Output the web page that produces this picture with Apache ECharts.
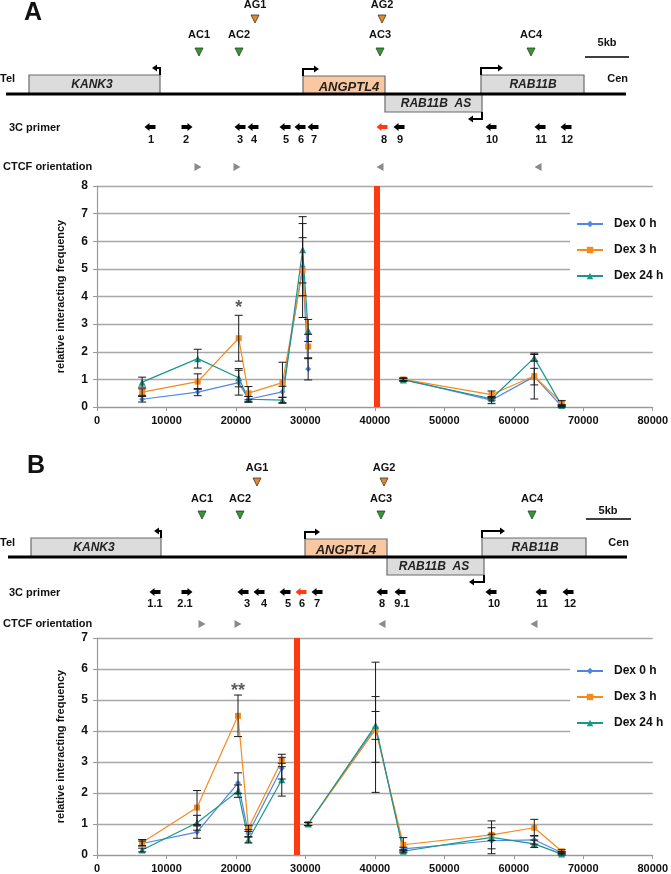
<!DOCTYPE html>
<html><head><meta charset="utf-8">
<script src="https://cdn.jsdelivr.net/npm/echarts@6/dist/echarts.min.js"></script>
<style>html,body{margin:0;padding:0;background:#fff}#c{width:671px;height:874px}</style>
</head><body><div id="c"></div>
<script>
// ---------------- DATA ----------------
const seriesNames = ['Dex 0 h', 'Dex 3 h', 'Dex 24 h'];
const xTicks = [0, 10000, 20000, 30000, 40000, 50000, 60000, 70000, 80000];

// Panel A (viewpoint: primer 8). '-' = break at viewpoint
const posA      = [6500, 14500, 20400, 21800, 26700, 29600, 30400, 40300, 44100, 56800, 62950, 66900];
const dex0A     = [0.28, 0.54, 0.88, 0.28, 0.55, 5.08, 1.38, '-', 1.00, 0.25, 1.10, 0.02];
const dex3A     = [0.54, 0.92, 2.49, 0.50, 0.88, 4.94, 2.19, '-', 1.00, 0.45, 1.12, 0.15];
const dex24A    = [0.90, 1.75, 1.06, 0.28, 0.25, 5.69, 2.77, '-', 0.98, 0.30, 1.78, 0.05];
const err0A     = [0.10, 0.13, 0.45, 0.10, 0.20, 1.05, 0.40, 0, 0.05, 0.13, 0.30, 0.03];
const err3A     = [0.12, 0.28, 0.83, 0.24, 0.74, 1.70, 0.44, 0, 0.05, 0.13, 0.83, 0.08];
const err24A    = [0.18, 0.34, 0.33, 0.10, 0.10, 1.20, 0.40, 0, 0.05, 0.05, 0.12, 0.03];
const viewA     = 40300;
const yMaxA     = 8;
const sigA      = [[20400, 3.6, '*']];

// Panel B (viewpoint: primer 6)
const posB      = [6500, 14400, 20300, 21800, 26600, 28700, 30400, 40100, 44100, 56800, 62950, 66900];
const dex0B     = [0.37, 0.74, 2.32, 0.70, 2.80, '-', 1.00, 4.12, 0.20, 0.46, 0.49, 0.07];
const dex3B     = [0.40, 1.53, 4.49, 0.86, 3.05, '-', 1.00, 4.05, 0.33, 0.65, 0.88, 0.12];
const dex24B    = [0.16, 1.04, 2.06, 0.49, 2.43, '-', 1.00, 4.18, 0.12, 0.57, 0.36, 0.03];
const err0B     = [0.08, 0.20, 0.33, 0.12, 0.35, 0, 0.05, 2.10, 0.05, 0.42, 0.14, 0.04];
const err3B     = [0.10, 0.55, 0.67, 0.10, 0.20, 0, 0.05, 1.06, 0.23, 0.45, 0.27, 0.05];
const err24B    = [0.06, 0.24, 0.20, 0.10, 0.53, 0, 0.05, 0.45, 0.05, 0.10, 0.12, 0.03];
const viewB     = 28700;
const yMaxB     = 7;
const sigB      = [[20300, 5.3, '**']];

// Diagram texts
const geneNames      = ['KANK3', 'ANGPTL4', 'RAB11B  AS', 'RAB11B'];
const agLabels       = ['AG1', 'AG2'];
const acLabels       = ['AC1', 'AC2', 'AC3', 'AC4'];
const primerLabelsA  = ['1','2','3','4','5','6','7','8','9','10','11','12'];
const primerLabelsB  = ['1.1','2.1','3','4','5','6','7','8','9.1','10','11','12'];
const primerDirA     = ['L','R','L','L','L','L','L','L','L','L','L','L'];
const primerDirB     = ['L','R','L','L','L','L','L','L','L','L','L','L'];
const viewPrimerA    = 7;
const viewPrimerB    = 5;
const ctcfDir        = ['R','R','L','L'];

// ---------------- STYLE / LAYOUT ----------------
const F = '"Liberation Sans", Arial, sans-serif';
const colors  = ['#4F86E6', '#F68A1F', '#18978A'];
const symbols = ['diamond', 'rect', 'triangle'];
const symSize = [6, 6, 7];
const RED = '#FF3A12';

const layoutA = {
  letter: [33, 13, 'A'],
  agY: 19, agLabelY: 5, agX: [255, 382],
  acY: 52, acLabelY: 35, acX: [199, 239, 380, 531],
  scale: {x1: 585, x2: 629, y: 57, labelX: 607, labelY: 43},
  baseY: 94, baseX1: 6, baseX2: 626, telY: 79, cenX: 628,
  genes: [
    {x1: 29, x2: 160, up: true, labelX: 92, labelY: 85, tssX: 160, tssDir: -1, tssLen: 8, fill: '#DCDCDC', size: 12},
    {x1: 303, x2: 385, up: true, top: 76, labelX: 349, labelY: 87, tssX: 303, tssDir: 1, tssLen: 16, fill: '#FAC8A0', size: 13},
    {x1: 385, x2: 482, up: false, labelX: 436, labelY: 104, tssX: 482, tssDir: -1, tssLen: 14, fill: '#DCDCDC', size: 12},
    {x1: 481, x2: 584, up: true, labelX: 533, labelY: 85, tssX: 481, tssDir: 1, tssLen: 22, fill: '#DCDCDC', size: 12}
  ],
  primerTextY: 128, primerY: 127, primerNumY: 140,
  primerX: [150, 187, 240, 253, 285, 300, 313, 382, 399, 491, 540, 566],
  primerNumX: [151, 186, 240, 254, 286, 301, 314, 384, 400, 492, 541, 567],
  ctcfY: 167, ctcfX: [198, 237, 380, 538]
};
const layoutB = {
  letter: [36, 466, 'B'],
  agY: 482, agLabelY: 468, agX: [257, 384],
  acY: 515, acLabelY: 499, acX: [202, 240, 381, 532],
  scale: {x1: 586, x2: 631, y: 519, labelX: 608, labelY: 511},
  baseY: 557, baseX1: 8, baseX2: 627, telY: 543, cenX: 629,
  genes: [
    {x1: 31, x2: 161, up: true, labelX: 94, labelY: 548, tssX: 161, tssDir: -1, tssLen: 7, fill: '#DCDCDC', size: 12},
    {x1: 305, x2: 387, up: true, top: 539, labelX: 346, labelY: 550, tssX: 305, tssDir: 1, tssLen: 15, fill: '#FAC8A0', size: 13},
    {x1: 387, x2: 484, up: false, labelX: 434, labelY: 567, tssX: 484, tssDir: -1, tssLen: 15, fill: '#DCDCDC', size: 12},
    {x1: 482, x2: 586, up: true, labelX: 535, labelY: 548, tssX: 482, tssDir: 1, tssLen: 23, fill: '#DCDCDC', size: 12}
  ],
  primerTextY: 593, primerY: 592, primerNumY: 604,
  primerX: [155, 187, 243, 259, 285, 301, 317, 382, 400, 491, 541, 568],
  primerNumX: [155, 185, 247, 264, 288, 302, 317, 382, 402, 494, 542, 570],
  ctcfY: 624, ctcfX: [202, 238, 382, 534]
};

function T(x, y, s, size, extra) {
  return Object.assign({type: 'text', x: x, y: y, silent: true, z: 10,
    style: Object.assign({text: s, fontSize: size, fontWeight: 'bold', fontFamily: F, fill: '#111',
      align: 'center', verticalAlign: 'middle'}, extra || {})});
}
function P(points, fill, stroke) {
  return {type: 'polygon', silent: true, z: 10, shape: {points: points},
    style: {fill: fill, stroke: stroke || null, lineWidth: stroke ? 0.8 : 0}};
}
function downTri(x, y, fill) { return P([[x - 4, y - 4], [x + 4, y - 4], [x, y + 4]], fill, '#333'); }
function sideTri(x, y, dir) {
  return dir === 'R' ? P([[x - 3.5, y - 4], [x + 3.5, y], [x - 3.5, y + 4]], '#8A8A8A')
                     : P([[x + 3.5, y - 4], [x - 3.5, y], [x + 3.5, y + 4]], '#8A8A8A');
}
function primerArrow(x, y, dir, fill) {
  const s = dir === 'R' ? 1 : -1;
  return P([[x + 5.5 * s, y], [x + 0.5 * s, y - 4], [x + 0.5 * s, y - 2], [x - 5.5 * s, y - 2],
            [x - 5.5 * s, y + 2], [x + 0.5 * s, y + 2], [x + 0.5 * s, y + 4]], fill);
}

function diagram(L, primerLabels, primerDir, viewIdx) {
  const g = [];
  g.push(T(L.letter[0], L.letter[1], L.letter[2], 25));
  agLabels.forEach((s, i) => { g.push(T(L.agX[i], L.agLabelY, s, 11)); g.push(downTri(L.agX[i], L.agY, '#E8862A')); });
  acLabels.forEach((s, i) => { g.push(T(L.acX[i], L.acLabelY, s, 11)); g.push(downTri(L.acX[i], L.acY, '#2E9E2E')); });
  g.push(T(L.scale.labelX, L.scale.labelY, '5kb', 11));
  g.push({type: 'line', silent: true, z: 10, shape: {x1: L.scale.x1, y1: L.scale.y, x2: L.scale.x2, y2: L.scale.y}, style: {stroke: '#000', lineWidth: 1.5}});
  g.push(T(0, L.telY, 'Tel', 11, {align: 'left'}));
  g.push(T(L.cenX, L.telY, 'Cen', 11, {align: 'right'}));
  const h = 18;
  L.genes.forEach((ge, i) => {
    const top = ge.up ? (ge.top || (L.baseY - h - 1)) : L.baseY;
    const bot = ge.up ? L.baseY : L.baseY + h;
    g.push({type: 'rect', silent: true, z: 9, shape: {x: ge.x1, y: top, width: ge.x2 - ge.x1, height: bot - top},
      style: {fill: ge.fill, stroke: '#6B6B6B', lineWidth: 1.2}});
    g.push(T(ge.labelX, ge.labelY, geneNames[i], ge.size, {fontStyle: 'italic', fill: '#222'}));
    // TSS bent arrow
    const yStart = ge.up ? top : bot;
    const yTurn = ge.up ? top - 7 : bot + 7;
    const xEnd = ge.tssX + ge.tssDir * ge.tssLen;
    g.push({type: 'polyline', silent: true, z: 11, shape: {points: [[ge.tssX, yStart], [ge.tssX, yTurn], [xEnd - ge.tssDir * 3, yTurn]]},
      style: {stroke: '#000', lineWidth: 2, fill: null}});
    g.push(P([[xEnd, yTurn], [xEnd - ge.tssDir * 5, yTurn - 3.5], [xEnd - ge.tssDir * 5, yTurn + 3.5]], '#000'));
  });
  g.push({type: 'line', silent: true, z: 10, shape: {x1: L.baseX1, y1: L.baseY, x2: L.baseX2, y2: L.baseY}, style: {stroke: '#000', lineWidth: 3}});
  g.push(T(9, L.primerTextY, '3C primer', 11, {align: 'left'}));
  primerLabels.forEach((s, i) => {
    g.push(primerArrow(L.primerX[i], L.primerY, primerDir[i], i === viewIdx ? RED : '#000'));
    g.push(T(L.primerNumX[i], L.primerNumY, s, 11));
  });
  g.push(T(3, L.ctcfY, 'CTCF orientation', 11, {align: 'left'}));
  ctcfDir.forEach((d, i) => g.push(sideTri(L.ctcfX[i], L.ctcfY, d)));
  return g;
}

// ---------------- CHART ----------------
const grids = [
  {left: 97, top: 186, width: 560, height: 221},
  {left: 97, top: 638, width: 560, height: 219}
];
function xAx(i) {
  return {type: 'value', gridIndex: i, min: 0, max: 80000, interval: 10000,
    axisLine: {show: true, lineStyle: {color: '#9A9A9A', width: 1.2}},
    axisTick: {show: true, length: 4, lineStyle: {color: '#9A9A9A'}},
    axisLabel: {color: '#111', fontFamily: F, fontWeight: 'bold', fontSize: 11, margin: 8,
      formatter: v => xTicks.indexOf(v) >= 0 ? String(v) : ''},
    splitLine: {show: false}};
}
function yAx(i, max) {
  return {type: 'value', gridIndex: i, min: 0, max: max, interval: 1,
    name: 'relative interacting frequency', nameLocation: 'middle', nameGap: 31,
    nameTextStyle: {color: '#111', fontFamily: F, fontWeight: 'bold', fontSize: 11},
    axisLine: {show: true, lineStyle: {color: '#9A9A9A', width: 1.2}},
    axisTick: {show: true, length: 4, lineStyle: {color: '#9A9A9A'}},
    axisLabel: {color: '#111', fontFamily: F, fontWeight: 'bold', fontSize: 12, margin: 9},
    splitLine: {show: true, lineStyle: {color: '#A8A8A8', width: 1.3}}};
}

const series = [];
function addPanel(idx, pos, vals, errs, view, sig) {
  vals.forEach((v, s) => {
    const ser = {type: 'line', name: seriesNames[s], xAxisIndex: idx, yAxisIndex: idx,
      data: pos.map((x, i) => [x, v[i]]), connectNulls: false,
      symbol: symbols[s], symbolSize: symSize[s], showSymbol: true,
      lineStyle: {color: colors[s], width: 1.2}, itemStyle: {color: colors[s]}, z: 3};
    if (s === 0) {
      ser.markLine = {silent: true, symbol: ['none', 'none'], label: {show: false},
        lineStyle: {color: RED, width: 6, type: 'solid'}, data: [{xAxis: view}], z: 1};
    }
    series.push(ser);
  });
  const eb = [];
  vals.forEach((v, s) => v.forEach((y, i) => {
    if (y !== '-' && errs[s][i] > 0) eb.push([pos[i], y - errs[s][i], y + errs[s][i]]);
  }));
  series.push({type: 'custom', xAxisIndex: idx, yAxisIndex: idx, silent: true, z: 4, data: eb,
    encode: {x: 0, y: [1, 2]},
    renderItem: (params, api) => {
      const a = api.coord([api.value(0), api.value(2)]);
      const b = api.coord([api.value(0), api.value(1)]);
      const w = 4, st = {stroke: '#1a1a1a', lineWidth: 1};
      return {type: 'group', children: [
        {type: 'line', shape: {x1: a[0], y1: a[1], x2: b[0], y2: b[1]}, style: st},
        {type: 'line', shape: {x1: a[0] - w, y1: a[1], x2: a[0] + w, y2: a[1]}, style: st},
        {type: 'line', shape: {x1: b[0] - w, y1: b[1], x2: b[0] + w, y2: b[1]}, style: st}
      ]};
    }});
  series.push({type: 'scatter', xAxisIndex: idx, yAxisIndex: idx, silent: true, symbolSize: 1,
    itemStyle: {color: 'rgba(0,0,0,0)'}, data: sig.map(d => ({value: [d[0], d[1]], name: d[2]})),
    label: {show: true, position: 'inside', formatter: p => p.name, color: '#333',
      fontFamily: F, fontWeight: 'bold', fontSize: 18}});
}
addPanel(0, posA, [dex0A, dex3A, dex24A], [err0A, err3A, err24A], viewA, sigA);
addPanel(1, posB, [dex0B, dex3B, dex24B], [err0B, err3B, err24B], viewB, sigB);

function legend(top) {
  return {data: seriesNames, orient: 'vertical', left: 570, top: top, itemWidth: 26, itemHeight: 8,
    itemGap: 14, backgroundColor: '#fff', padding: [8, 14, 8, 6], selectedMode: false,
    textStyle: {color: '#111', fontFamily: F, fontWeight: 'bold', fontSize: 12, padding: [0, 0, 0, 6]}};
}

const chart = echarts.init(document.getElementById('c'), null, {renderer: 'canvas'});
chart.setOption({
  animation: false,
  backgroundColor: '#fff',
  grid: grids,
  xAxis: [xAx(0), xAx(1)],
  yAxis: [yAx(0, yMaxA), yAx(1, yMaxB)],
  legend: [legend(210), legend(657)],
  series: series,
  graphic: diagram(layoutA, primerLabelsA, primerDirA, viewPrimerA)
    .concat(diagram(layoutB, primerLabelsB, primerDirB, viewPrimerB))
});
</script>
</body></html>
